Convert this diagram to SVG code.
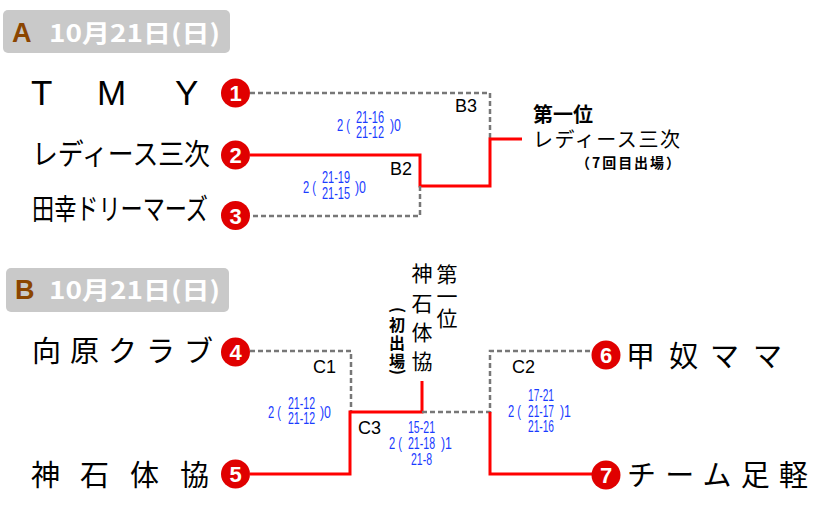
<svg xmlns="http://www.w3.org/2000/svg" width="840" height="506" viewBox="0 0 840 506">
<style>
.hdr{fill:#c9c9c9}
.hl{font-family:"Liberation Sans","Noto Sans CJK JP",sans-serif;font-weight:bold;font-size:27px;fill:#8b4500}
.ht{font-family:"Noto Sans CJK JP",sans-serif;font-weight:bold;font-size:24px;fill:#fff}
.tm{font-family:"Noto Sans CJK JP",sans-serif;font-size:29px;fill:#000}
.lat{font-family:"Liberation Sans",sans-serif;font-size:35px;fill:#000}
.num{fill:#e00000}
.nt{font-family:"Liberation Sans",sans-serif;font-weight:bold;font-size:22px;fill:#fff;text-anchor:middle}
.sc{font-family:"Liberation Sans",sans-serif;font-size:16px;fill:#1a3cff}
.lb{font-family:"Liberation Sans",sans-serif;font-size:18px;fill:#000}
.win{fill:none;stroke:#ff0000;stroke-width:3}
.los{fill:none;stroke:#777;stroke-width:2.5;stroke-dasharray:5,3}
.ch{font-family:"Noto Sans CJK JP",sans-serif;fill:#000}
.v{font-family:"Noto Sans CJK JP",sans-serif;font-size:21px;fill:#000;text-anchor:middle}
.vs{font-family:"Noto Sans CJK JP",sans-serif;font-size:16px;font-weight:bold;fill:#000;text-anchor:middle}
</style>

<g id="header-a">
<rect class="hdr" x="3" y="10" width="227" height="43" rx="5"/>
<text class="hl" x="12" y="42">A</text>
<text class="ht" x="49" y="42" textLength="171" lengthAdjust="spacingAndGlyphs">10月21日(日)</text>
</g>
<g id="header-b">
<rect class="hdr" x="6" y="268" width="223" height="44" rx="5"/>
<text class="hl" x="15" y="299">B</text>
<text class="ht" x="49" y="299" textLength="171" lengthAdjust="spacingAndGlyphs">10月21日(日)</text>
</g>

<g id="connectors">
<polyline class="los" points="250,93 490,93 490,139"/>
<polyline class="win" points="250,155 420,155 420,186 490,186 490,139 522,139"/>
<polyline class="los" points="420,186 420,216 250,216"/>
<polyline class="los" points="250,351 351,351 351,412"/>
<polyline class="win" points="250,474 350,474 350,412 422,412 422,381"/>
<polyline class="los" points="422,412 490,412 490,351 592,351"/>
<polyline class="win" points="490,412 490,474 592,474"/>
</g>

<g id="team1">
<text class="lat" x="31" y="105">T</text>
<text class="lat" x="97" y="105">M</text>
<text class="lat" x="175" y="105">Y</text>
<circle class="num" cx="235.5" cy="93" r="14.5"/><text class="nt" x="235.5" y="101">1</text>
</g>
<g id="team2">
<text class="tm" x="32" y="165" textLength="178" lengthAdjust="spacingAndGlyphs">レディース三次</text>
<circle class="num" cx="235.5" cy="155" r="14.5"/><text class="nt" x="235.5" y="163">2</text>
</g>
<g id="team3">
<text class="tm" x="32" y="220" textLength="176" lengthAdjust="spacingAndGlyphs">田幸ドリーマーズ</text>
<circle class="num" cx="235.5" cy="215.5" r="14.5"/><text class="nt" x="235.5" y="223.5">3</text>
</g>
<g id="team4">
<text class="tm" x="32" y="362" textLength="181" lengthAdjust="spacing">向原クラブ</text>
<circle class="num" cx="235.5" cy="352" r="14.5"/><text class="nt" x="235.5" y="360">4</text>
</g>
<g id="team5">
<text class="tm" x="31" y="486">神</text>
<text class="tm" x="80" y="486">石</text>
<text class="tm" x="130" y="486">体</text>
<text class="tm" x="180" y="486">協</text>
<circle class="num" cx="235.5" cy="474" r="14.5"/><text class="nt" x="235.5" y="482">5</text>
</g>
<g id="team6">
<circle class="num" cx="606" cy="355" r="14.5"/><text class="nt" x="606" y="363">6</text>
<text class="tm" x="626" y="367">甲</text>
<text class="tm" x="669" y="367">奴</text>
<text class="tm" x="710" y="367">マ</text>
<text class="tm" x="753" y="367">マ</text>
</g>
<g id="team7">
<circle class="num" cx="606" cy="475" r="14.5"/><text class="nt" x="606" y="483">7</text>
<text class="tm" x="627" y="486" textLength="181" lengthAdjust="spacing">チーム足軽</text>
</g>

<g id="match-b2">
<text class="lb" x="390" y="175">B2</text>
<text class="sc" x="303" y="193" textLength="13" lengthAdjust="spacingAndGlyphs">2 (</text>
<text class="sc" x="322" y="183" textLength="28" lengthAdjust="spacingAndGlyphs">21-19</text>
<text class="sc" x="322" y="199" textLength="28" lengthAdjust="spacingAndGlyphs">21-15</text>
<text class="sc" x="355" y="193" textLength="11" lengthAdjust="spacingAndGlyphs">)0</text>
</g>
<g id="match-b3">
<text class="lb" x="455" y="112">B3</text>
<text class="sc" x="337" y="131" textLength="13" lengthAdjust="spacingAndGlyphs">2 (</text>
<text class="sc" x="356" y="123" textLength="28" lengthAdjust="spacingAndGlyphs">21-16</text>
<text class="sc" x="356" y="138" textLength="28" lengthAdjust="spacingAndGlyphs">21-12</text>
<text class="sc" x="390" y="131" textLength="11" lengthAdjust="spacingAndGlyphs">)0</text>
</g>
<g id="winner-a">
<text class="ch" x="533" y="122" font-size="20" font-weight="bold">第一位</text>
<text class="ch" x="533" y="147" font-size="20" textLength="147" lengthAdjust="spacing">レディース三次</text>
<text class="ch" x="576" y="168" font-size="14" font-weight="bold" textLength="104" lengthAdjust="spacing">（7回目出場）</text>
</g>

<g id="match-c1">
<text class="lb" x="313" y="373">C1</text>
<text class="sc" x="268" y="418" textLength="13" lengthAdjust="spacingAndGlyphs">2 (</text>
<text class="sc" x="288" y="409" textLength="27" lengthAdjust="spacingAndGlyphs">21-12</text>
<text class="sc" x="288" y="424" textLength="27" lengthAdjust="spacingAndGlyphs">21-12</text>
<text class="sc" x="320" y="418" textLength="11" lengthAdjust="spacingAndGlyphs">)0</text>
</g>
<g id="match-c2">
<text class="lb" x="512" y="373">C2</text>
<text class="sc" x="528" y="401" textLength="26" lengthAdjust="spacingAndGlyphs">17-21</text>
<text class="sc" x="508" y="417" textLength="13" lengthAdjust="spacingAndGlyphs">2 (</text>
<text class="sc" x="528" y="417" textLength="26" lengthAdjust="spacingAndGlyphs">21-17</text>
<text class="sc" x="560" y="417" textLength="11" lengthAdjust="spacingAndGlyphs">)1</text>
<text class="sc" x="528" y="432" textLength="26" lengthAdjust="spacingAndGlyphs">21-16</text>
</g>
<g id="match-c3">
<text class="lb" x="358" y="434">C3</text>
<text class="sc" x="408" y="433" textLength="27" lengthAdjust="spacingAndGlyphs">15-21</text>
<text class="sc" x="389" y="449" textLength="13" lengthAdjust="spacingAndGlyphs">2 (</text>
<text class="sc" x="408" y="449" textLength="27" lengthAdjust="spacingAndGlyphs">21-18</text>
<text class="sc" x="441" y="449" textLength="11" lengthAdjust="spacingAndGlyphs">)1</text>
<text class="sc" x="411" y="465" textLength="21" lengthAdjust="spacingAndGlyphs">21-8</text>
</g>
<g id="winner-b">
<text class="v" x="447" y="282">第</text>
<text class="v" x="447" y="304">一</text>
<text class="v" x="447" y="326">位</text>
<text class="v" x="422" y="281">神</text>
<text class="v" x="422" y="311">石</text>
<text class="v" x="422" y="340">体</text>
<text class="v" x="422" y="369">協</text>
<text class="vs" transform="translate(397,310) rotate(90)" x="0" y="5">(</text>
<text class="vs" x="397" y="331">初</text>
<text class="vs" x="397" y="349">出</text>
<text class="vs" x="397" y="367">場</text>
<text class="vs" transform="translate(397,372) rotate(90)" x="0" y="5">)</text>
</g>
</svg>
